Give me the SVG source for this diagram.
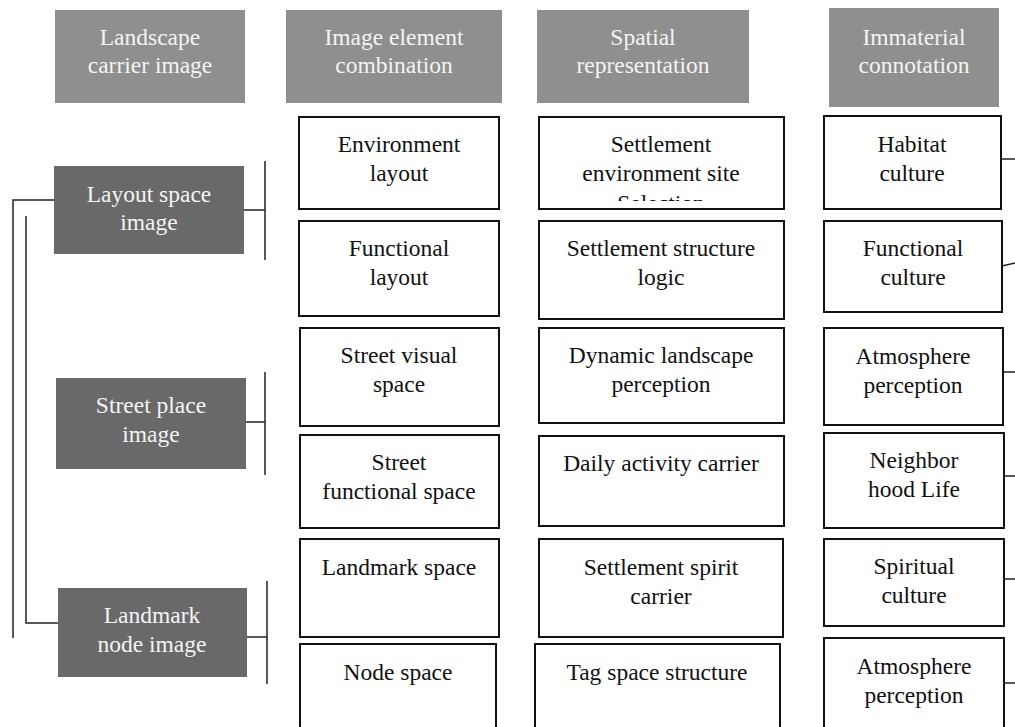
<svg xmlns="http://www.w3.org/2000/svg" width="1015" height="727" viewBox="0 0 1015 727">
<style>
.hdr{fill:#8f8f8f}
.dark{fill:#696969}
.box{fill:#fff;stroke:#111;stroke-width:2}
.t{font-family:"Liberation Serif","Times New Roman",serif;font-size:23.5px;text-anchor:middle;fill:#111}
.tw{font-family:"Liberation Serif","Times New Roman",serif;font-size:23.5px;text-anchor:middle;fill:#f4f4f4}
.ln{fill:none;stroke:#222;stroke-width:1.5}
</style>
<defs>
<clipPath id="clipSel"><rect x="539" y="117" width="245" height="84"/></clipPath>
</defs>
<rect width="1015" height="727" fill="#fff"/>

<g id="connectors">
<path class="ln" d="M54 200 H13 V638"/>
<path class="ln" d="M26 216 V623 H58"/>
<path class="ln" d="M244 210 H265 M265 161 V260"/>
<path class="ln" d="M246 422 H265 M265 372 V475"/>
<path class="ln" d="M247 637 H267 M267 581 V684"/>
<path class="ln" d="M1001 159 H1015"/>
<path class="ln" d="M1002 266 L1015 263"/>
<path class="ln" d="M1003 372 H1015"/>
<path class="ln" d="M1004 476 H1015"/>
<path class="ln" d="M1004 579 H1015"/>
<path class="ln" d="M1004 683 H1015"/>
</g>

<g id="h1"><rect class="hdr" x="55" y="10" width="190" height="93"/>
<text class="tw" x="150" y="45">Landscape</text><text class="tw" x="150" y="73">carrier image</text></g>
<g id="h2"><rect class="hdr" x="286" y="10" width="216" height="93"/>
<text class="tw" x="394" y="45">Image element</text><text class="tw" x="394" y="73">combination</text></g>
<g id="h3"><rect class="hdr" x="537" y="10" width="212" height="93"/>
<text class="tw" x="643" y="45">Spatial</text><text class="tw" x="643" y="73">representation</text></g>
<g id="h4"><rect class="hdr" x="829" y="8" width="170" height="99"/>
<text class="tw" x="914" y="45">Immaterial</text><text class="tw" x="914" y="73">connotation</text></g>

<g id="l1"><rect class="dark" x="54" y="166" width="190" height="88"/>
<text class="tw" x="149" y="202">Layout space</text><text class="tw" x="149" y="230">image</text></g>
<g id="l2"><rect class="dark" x="56" y="378" width="190" height="91"/>
<text class="tw" x="151" y="413">Street place</text><text class="tw" x="151" y="442">image</text></g>
<g id="l3"><rect class="dark" x="58" y="588" width="189" height="89"/>
<text class="tw" x="152" y="623">Landmark</text><text class="tw" x="152" y="652">node image</text></g>

<g id="c2r1"><rect class="box" x="299" y="117" width="200" height="92"/>
<text class="t" x="399" y="152">Environment</text><text class="t" x="399" y="181">layout</text></g>
<g id="c2r2"><rect class="box" x="299" y="221" width="200" height="95"/>
<text class="t" x="399" y="256">Functional</text><text class="t" x="399" y="285">layout</text></g>
<g id="c2r3"><rect class="box" x="300" y="328" width="199" height="98"/>
<text class="t" x="399" y="363">Street visual</text><text class="t" x="399" y="392">space</text></g>
<g id="c2r4"><rect class="box" x="300" y="435" width="199" height="93"/>
<text class="t" x="399" y="470">Street</text><text class="t" x="399" y="499">functional space</text></g>
<g id="c2r5"><rect class="box" x="300" y="539" width="199" height="98"/>
<text class="t" x="399" y="575">Landmark space</text></g>
<g id="c2r6"><rect class="box" x="300" y="644" width="196" height="100"/>
<text class="t" x="398" y="680">Node space</text></g>

<g id="c3r1"><rect class="box" x="539" y="117" width="245" height="92"/>
<text class="t" x="661" y="152">Settlement</text><text class="t" x="661" y="181">environment site</text>
<text class="t" x="661" y="211" clip-path="url(#clipSel)">Selection</text></g>
<g id="c3r2"><rect class="box" x="539" y="221" width="245" height="98"/>
<text class="t" x="661" y="256">Settlement structure</text><text class="t" x="661" y="285">logic</text></g>
<g id="c3r3"><rect class="box" x="539" y="328" width="245" height="95"/>
<text class="t" x="661" y="363">Dynamic landscape</text><text class="t" x="661" y="392">perception</text></g>
<g id="c3r4"><rect class="box" x="539" y="436" width="245" height="90"/>
<text class="t" x="661" y="471">Daily activity carrier</text></g>
<g id="c3r5"><rect class="box" x="539" y="539" width="244" height="98"/>
<text class="t" x="661" y="575">Settlement spirit</text><text class="t" x="661" y="604">carrier</text></g>
<g id="c3r6"><rect class="box" x="535" y="644" width="245" height="100"/>
<text class="t" x="657" y="680">Tag space structure</text></g>

<g id="c4r1"><rect class="box" x="824" y="116" width="177" height="93"/>
<text class="t" x="912" y="152">Habitat</text><text class="t" x="912" y="181">culture</text></g>
<g id="c4r2"><rect class="box" x="824" y="221" width="178" height="91"/>
<text class="t" x="913" y="256">Functional</text><text class="t" x="913" y="285">culture</text></g>
<g id="c4r3"><rect class="box" x="824" y="328" width="179" height="97"/>
<text class="t" x="913" y="364">Atmosphere</text><text class="t" x="913" y="393">perception</text></g>
<g id="c4r4"><rect class="box" x="824" y="433" width="180" height="95"/>
<text class="t" x="914" y="468">Neighbor</text><text class="t" x="914" y="497">hood Life</text></g>
<g id="c4r5"><rect class="box" x="824" y="539" width="180" height="87"/>
<text class="t" x="914" y="574">Spiritual</text><text class="t" x="914" y="603">culture</text></g>
<g id="c4r6"><rect class="box" x="824" y="638" width="180" height="106"/>
<text class="t" x="914" y="674">Atmosphere</text><text class="t" x="914" y="703">perception</text></g>
</svg>
